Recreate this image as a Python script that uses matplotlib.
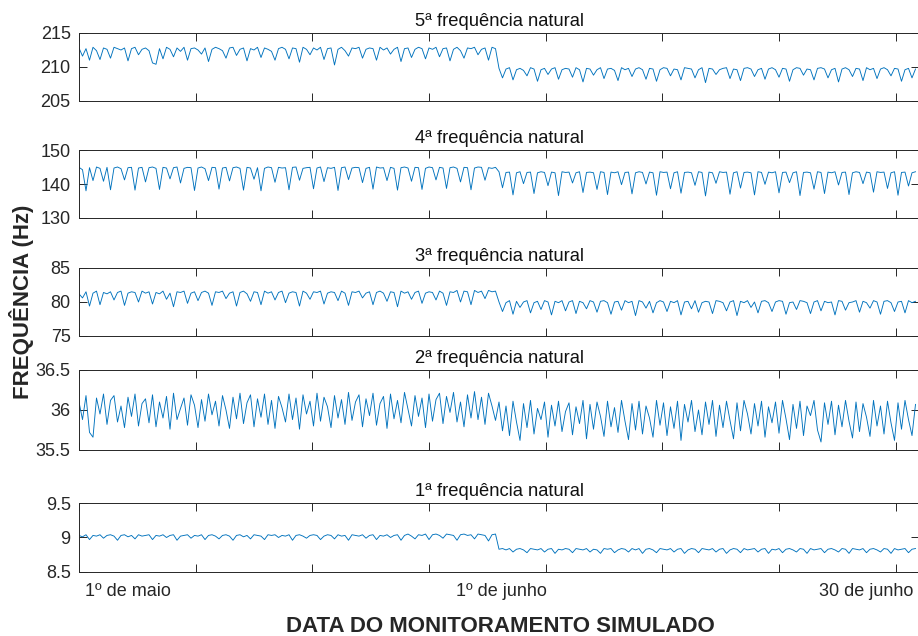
import numpy as np
import matplotlib
matplotlib.use('Agg')
import matplotlib.pyplot as plt

plt.rcParams['font.family'] = ['Liberation Sans', 'DejaVu Sans']

# 5a frequencia (Hz), amostras a cada 6 h: maio (0-714 h) e junho (720-1434 h)
f5_maio = [
    212.8, 211.6, 212.7, 211.0, 212.9, 212.4, 211.1, 212.8, 212.6, 211.3, 212.9, 212.7, 212.5, 212.8, 210.9, 212.7, 212.9, 211.8, 212.6, 212.8,
    212.4, 210.6, 210.4, 212.7, 211.2, 212.9, 212.6, 211.5, 212.8, 212.3, 212.9, 211.0, 212.7, 212.8, 212.5, 211.9, 212.8, 210.8, 212.6, 212.9,
    212.7, 212.4, 211.3, 212.8, 212.9, 211.7, 212.6, 212.8, 210.9, 212.7, 212.5, 212.9, 211.4, 212.8, 212.6, 212.3, 211.0, 212.7, 212.9, 212.6,
    211.2, 212.8, 212.7, 210.7, 212.9, 212.6, 211.8, 212.8, 212.5, 212.9, 211.1, 212.7, 212.8, 210.3, 212.6, 212.9, 212.4, 211.6, 212.8, 212.7,
    212.9, 211.3, 212.6, 212.8, 212.7, 211.0, 212.9, 212.5, 212.8, 211.9, 212.6, 212.9, 210.8, 212.7, 212.8, 211.4, 212.6, 212.9, 212.7, 211.2,
    212.8, 212.6, 212.9, 211.5, 212.7, 212.8, 210.9, 212.6, 212.9, 212.4, 211.3, 212.8, 212.7, 212.9, 211.8, 212.6, 212.8, 211.0, 212.9, 212.7]
f5_junho = [
    209.8, 208.4, 209.7, 209.9, 208.1, 209.6, 209.8, 209.5, 208.7, 209.9, 209.7, 207.9, 209.6, 209.8, 208.9, 209.7, 209.9, 208.2, 209.6, 209.8,
    209.7, 208.5, 209.9, 209.6, 207.8, 209.8, 209.7, 208.8, 209.6, 209.9, 208.3, 209.7, 209.8, 209.5, 208.0, 209.9, 209.6, 209.8, 208.6, 209.7,
    209.9, 209.6, 208.2, 209.8, 209.7, 207.9, 209.6, 209.9, 209.8, 208.7, 209.7, 209.6, 208.1, 209.9, 209.8, 209.7, 208.4, 209.6, 209.9, 207.7,
    209.8, 209.7, 208.9, 209.6, 209.8, 209.9, 208.3, 209.7, 209.6, 208.0, 209.8, 209.9, 209.7, 208.6, 209.6, 209.8, 208.2, 209.7, 209.9, 209.6,
    208.5, 209.8, 209.7, 207.9, 209.6, 209.9, 209.8, 208.8, 209.7, 209.6, 208.1, 209.8, 209.9, 209.7, 208.4, 209.6, 209.8, 207.8, 209.7, 209.9,
    209.6, 208.6, 209.8, 209.7, 208.0, 209.9, 209.6, 209.8, 208.3, 209.7, 209.9, 209.6, 208.7, 209.8, 209.7, 207.9, 209.6, 209.8, 208.4, 209.7]

# 4a frequencia
f4_maio = [
    144.9, 144.2, 138.0, 144.8, 141.0, 145.0, 144.6, 140.8, 144.9, 138.3, 144.7, 145.0, 144.5, 141.2, 144.8, 144.9, 138.2, 144.7, 144.9, 140.6,
    144.8, 145.0, 144.6, 138.4, 144.9, 144.7, 141.5, 144.8, 145.0, 140.3, 144.6, 144.9, 144.8, 138.1, 144.7, 145.0, 144.5, 141.0, 144.9, 144.8,
    138.5, 144.7, 144.9, 140.9, 144.8, 145.0, 144.6, 138.2, 144.9, 144.7, 141.4, 144.8, 138.0, 144.6, 145.0, 144.8, 140.5, 144.9, 144.7, 144.8,
    138.3, 144.9, 145.0, 141.1, 144.6, 144.8, 144.9, 138.6, 144.7, 145.0, 140.7, 144.8, 144.6, 144.9, 138.1, 144.8, 145.0, 141.3, 144.7, 144.9,
    144.8, 140.4, 144.6, 144.9, 138.5, 145.0, 144.7, 144.8, 141.0, 144.9, 144.6, 138.2, 144.8, 145.0, 144.7, 140.8, 144.9, 144.8, 138.4, 144.6,
    145.0, 144.8, 141.2, 144.9, 144.7, 138.7, 144.8, 145.0, 144.6, 140.6, 144.9, 144.8, 138.3, 144.7, 145.0, 144.9, 141.1, 144.8, 144.6, 144.9]
f4_junho = [
    143.6, 138.9, 143.4, 143.5, 136.8, 143.3, 143.6, 140.1, 143.4, 143.5, 137.2, 143.3, 143.6, 143.4, 139.5, 143.5, 143.3, 136.6, 143.6, 143.4,
    143.5, 140.3, 143.3, 143.6, 137.5, 143.4, 143.5, 143.3, 138.4, 143.6, 143.4, 136.9, 143.5, 143.3, 143.6, 139.8, 143.4, 143.5, 137.1, 143.3,
    143.6, 143.4, 140.0, 143.5, 143.3, 136.7, 143.6, 143.4, 143.5, 138.6, 143.3, 143.6, 137.3, 143.4, 143.5, 143.3, 139.6, 143.6, 143.4, 136.5,
    143.5, 143.3, 140.2, 143.6, 143.4, 143.5, 137.0, 143.3, 143.6, 138.8, 143.4, 143.5, 143.3, 136.8, 143.6, 143.4, 139.9, 143.5, 143.3, 143.6,
    137.4, 143.4, 143.5, 140.4, 143.3, 143.6, 136.6, 143.4, 143.5, 143.3, 138.5, 143.6, 143.4, 137.2, 143.5, 143.3, 143.6, 139.7, 143.4, 143.5,
    136.9, 143.3, 143.6, 143.4, 140.1, 143.5, 143.3, 137.6, 143.6, 143.4, 143.5, 138.7, 143.3, 143.6, 136.7, 143.4, 143.5, 139.4, 143.3, 143.6]

# 3a frequencia
f3_maio = [
    81.2, 80.6, 81.5, 79.4, 81.3, 81.6, 79.6, 81.4, 81.2, 81.5, 80.3, 81.4, 81.6, 79.5, 81.3, 81.5, 81.4, 80.0, 81.6, 81.3,
    81.5, 79.7, 81.4, 81.2, 81.6, 80.4, 81.3, 79.3, 81.5, 81.4, 81.6, 79.8, 81.3, 81.5, 80.2, 81.4, 81.6, 81.3, 79.5, 81.5,
    81.4, 81.6, 80.5, 81.3, 81.5, 79.4, 81.4, 81.6, 81.2, 80.1, 81.5, 81.4, 79.6, 81.6, 81.3, 81.5, 80.3, 81.4, 81.6, 79.9,
    81.3, 81.5, 81.4, 79.4, 81.6, 81.3, 80.4, 81.5, 81.4, 81.6, 79.7, 81.3, 81.5, 81.4, 80.2, 81.6, 81.3, 79.5, 81.5, 81.4,
    81.6, 80.6, 81.3, 81.5, 79.6, 81.4, 81.6, 81.3, 80.1, 81.5, 81.4, 79.3, 81.6, 81.3, 81.5, 80.4, 81.4, 81.6, 79.8, 81.3,
    81.5, 81.4, 80.3, 81.6, 81.3, 79.5, 81.5, 81.4, 81.7, 80.0, 81.6, 81.5, 79.6, 81.7, 81.4, 81.6, 80.5, 81.7, 81.5, 81.6]
f3_junho = [
    80.0, 78.6, 79.9, 80.2, 78.2, 80.1, 79.2, 80.0, 80.2, 78.4, 79.9, 80.1, 78.9, 80.2, 80.0, 78.1, 80.1, 79.9, 80.2, 78.7,
    80.0, 80.2, 78.3, 80.1, 79.9, 79.0, 80.2, 80.0, 78.5, 80.1, 80.2, 79.9, 78.2, 80.0, 80.1, 78.8, 80.2, 79.9, 80.1, 78.0,
    80.2, 80.0, 79.1, 80.1, 78.4, 79.9, 80.2, 80.0, 78.6, 80.1, 79.9, 80.2, 78.1, 80.0, 80.1, 79.0, 80.2, 78.5, 79.9, 80.1,
    80.0, 78.3, 80.2, 80.1, 79.9, 78.7, 80.0, 80.2, 78.0, 80.1, 79.9, 80.2, 79.2, 80.0, 78.4, 80.1, 80.2, 79.9, 78.6, 80.0,
    80.2, 80.1, 78.2, 79.9, 80.0, 78.9, 80.2, 80.1, 79.9, 78.3, 80.0, 80.2, 78.7, 80.1, 79.9, 80.0, 78.1, 80.2, 80.1, 78.8,
    79.9, 80.0, 80.2, 78.5, 80.1, 79.9, 79.1, 80.2, 80.0, 78.2, 80.1, 80.2, 79.9, 78.6, 80.0, 80.1, 78.4, 80.2, 79.9, 80.1]

# 2a frequencia
f2_maio = [
    36.10, 35.88, 36.18, 35.72, 35.66, 36.15, 35.95, 36.20, 35.82, 36.12, 36.18, 35.85, 36.05, 35.78, 36.16, 35.92, 36.20, 35.80, 36.08, 36.14,
    35.84, 36.19, 35.79, 36.10, 35.90, 36.17, 35.76, 36.21, 35.88, 36.02, 36.15, 35.81, 36.19, 36.06, 35.78, 36.13, 35.86, 36.20, 35.94, 36.11,
    35.80, 36.18, 36.00, 35.77, 36.16, 35.89, 36.21, 35.83, 36.09, 36.19, 35.79, 36.14, 35.91, 36.20, 35.82, 36.12, 35.77, 36.17, 36.03, 35.85,
    36.20, 35.88, 36.15, 35.76, 36.19, 35.95, 36.11, 35.80, 36.21, 35.86, 36.16, 36.04, 35.78, 36.18, 35.90, 36.13, 35.82, 36.22, 35.87, 36.10,
    36.19, 35.79, 36.14, 35.93, 36.21, 35.81, 36.08, 36.17, 35.77, 36.20, 35.89, 36.12, 35.84, 36.22, 36.01, 35.80, 36.18, 35.92, 36.15, 35.78,
    36.20, 35.86, 36.13, 36.21, 35.83, 36.17, 35.97, 36.22, 35.85, 36.10, 35.79, 36.19, 35.90, 36.23, 35.88, 36.16, 35.82, 36.21, 36.05, 35.87]
f2_junho = [
    36.10, 35.74, 36.05, 35.68, 36.11, 35.85, 35.62, 36.08, 35.78, 36.12, 35.70, 36.02, 35.88, 36.10, 35.66, 36.06, 35.80, 36.11, 35.73, 35.98,
    36.09, 35.69, 36.04, 35.83, 36.12, 35.64, 36.07, 35.76, 36.10, 35.92, 35.67, 36.11, 35.79, 36.03, 35.72, 36.12, 35.86, 35.63, 36.08, 35.75,
    36.11, 35.70, 36.05, 35.90, 35.66, 36.12, 35.81, 36.09, 35.68, 36.04, 35.77, 36.11, 35.62, 36.07, 35.85, 36.12, 35.73, 36.00, 35.69, 36.10,
    35.82, 36.12, 35.67, 36.06, 35.78, 36.11, 35.87, 35.64, 36.09, 35.74, 36.12, 35.95, 35.70, 36.08, 35.80, 36.11, 35.66, 36.04, 35.84, 36.10,
    35.71, 36.12, 35.89, 35.63, 36.07, 35.77, 36.11, 35.68, 36.05, 35.93, 36.12, 35.75, 35.60, 36.09, 35.82, 36.11, 35.69, 36.06, 35.79, 36.12,
    35.86, 35.65, 36.10, 35.73, 36.08, 35.91, 35.67, 36.12, 35.80, 36.05, 35.70, 36.11, 35.84, 35.62, 36.09, 35.76, 36.12, 35.88, 35.68, 36.07]

# 1a frequencia
f1_maio = [
    9.03, 9.01, 9.04, 8.97, 9.03, 9.02, 9.04, 8.99, 9.03, 9.04, 9.02, 8.96, 9.03, 9.04, 9.01, 9.03, 8.98, 9.04, 9.02, 9.03,
    9.04, 8.97, 9.03, 9.02, 9.04, 9.00, 9.03, 9.04, 8.96, 9.02, 9.03, 9.04, 8.99, 9.03, 9.02, 9.04, 8.97, 9.03, 9.04, 9.02,
    8.98, 9.03, 9.04, 9.02, 8.96, 9.03, 9.04, 9.01, 9.03, 8.98, 9.04, 9.03, 9.02, 8.97, 9.04, 9.03, 9.04, 9.00, 9.03, 9.02,
    9.04, 8.96, 9.03, 9.04, 9.02, 8.99, 9.03, 9.04, 9.03, 8.97, 9.02, 9.04, 9.03, 8.98, 9.04, 9.02, 9.03, 8.96, 9.04, 9.03,
    9.02, 9.04, 8.99, 9.03, 9.04, 8.97, 9.03, 9.02, 9.04, 9.00, 9.03, 9.04, 8.96, 9.03, 9.05, 9.02, 8.98, 9.04, 9.03, 9.05,
    8.97, 9.04, 9.05, 9.03, 8.99, 9.05, 9.04, 9.03, 8.96, 9.04, 9.05, 9.03, 9.04, 8.98, 9.05, 9.04, 9.03, 8.95, 9.04, 9.05]
f1_junho = [
    8.83, 8.84, 8.82, 8.84, 8.79, 8.83, 8.84, 8.82, 8.78, 8.84, 8.83, 8.82, 8.84, 8.79, 8.83, 8.84, 8.77, 8.83, 8.82, 8.84,
    8.83, 8.78, 8.84, 8.83, 8.82, 8.84, 8.79, 8.83, 8.82, 8.77, 8.84, 8.83, 8.84, 8.78, 8.82, 8.84, 8.83, 8.79, 8.84, 8.82,
    8.84, 8.77, 8.83, 8.84, 8.82, 8.78, 8.84, 8.83, 8.82, 8.84, 8.79, 8.83, 8.84, 8.77, 8.82, 8.84, 8.83, 8.78, 8.84, 8.83,
    8.82, 8.84, 8.79, 8.83, 8.84, 8.77, 8.82, 8.84, 8.83, 8.78, 8.84, 8.82, 8.83, 8.84, 8.79, 8.83, 8.84, 8.77, 8.83, 8.82,
    8.84, 8.78, 8.83, 8.84, 8.82, 8.79, 8.84, 8.83, 8.77, 8.84, 8.82, 8.83, 8.84, 8.78, 8.83, 8.84, 8.82, 8.79, 8.84, 8.83,
    8.77, 8.84, 8.83, 8.82, 8.84, 8.78, 8.83, 8.84, 8.82, 8.79, 8.84, 8.83, 8.77, 8.84, 8.82, 8.83, 8.84, 8.78, 8.83, 8.84]

titles = ['5ª frequência natural', '4ª frequência natural', '3ª frequência natural',
          '2ª frequência natural', '1ª frequência natural']
ylims = [(205, 215), (130, 150), (75, 85), (35.5, 36.5), (8.5, 9.5)]
yticks = [[205, 210, 215], [130, 140, 150], [75, 80, 85], [35.5, 36, 36.5], [8.5, 9, 9.5]]
ytick_labels = [['205', '210', '215'], ['130', '140', '150'], ['75', '80', '85'],
                ['35.5', '36', '36.5'], ['8.5', '9', '9.5']]
date_pos = [84, 725, 1349]   # horas
date_labels = ['1º de maio', '1º de junho', '30 de junho']

series = [f5_maio + f5_junho, f4_maio + f4_junho, f3_maio + f3_junho,
          f2_maio + f2_junho, f1_maio + f1_junho]
t = np.arange(len(series[0])) * 6  # horas desde 1º de maio

# posicao dos eixos (topo, base) em pixels
W, H = 918, 636
boxes = [(33, 101), (150, 218), (268, 336), (370, 450), (503, 572)]
left, right = 79, 919

fig = plt.figure(figsize=(W / 100, H / 100), dpi=100)
axcol = '#262626'
for i in range(5):
    top, bot = boxes[i]
    ax = fig.add_axes([left / W, 1 - bot / H, (right - left) / W, (bot - top) / H])
    ax.plot(t, series[i], color='#0072BD', lw=0.65)
    ax.set_xlim(0, 1440)
    ax.set_ylim(*ylims[i])
    ax.set_yticks(yticks[i], ytick_labels[i])
    ax.set_xticks(np.arange(0, 1441, 200))
    ax.tick_params(axis='both', which='major', direction='in', length=6, width=0.7,
                   top=True, right=True, labelsize=13, colors=axcol, labelcolor=axcol, pad=6)
    ax.tick_params(axis='x', which='major', labelbottom=False)
    for s in ax.spines.values():
        s.set_color(axcol)
        s.set_linewidth(0.7)
    ax.set_title(titles[i], fontsize=13.2, color='#111111', pad=5)
    if i == 4:
        ax.set_xticks(date_pos, date_labels, minor=True)
        ax.tick_params(axis='x', which='minor', length=0, labelsize=13, labelcolor=axcol, pad=8)

fig.text(22 / W, 1 - 302 / H, 'FREQUÊNCIA (Hz)', rotation=90, ha='center', va='center',
         fontsize=16, fontweight='bold', color=axcol)
fig.text(500 / W, 1 - 627 / H, 'DATA DO MONITORAMENTO SIMULADO', ha='center', va='center',
         fontsize=16, fontweight='bold', color=axcol)

fig.savefig('out.png', dpi=100)
